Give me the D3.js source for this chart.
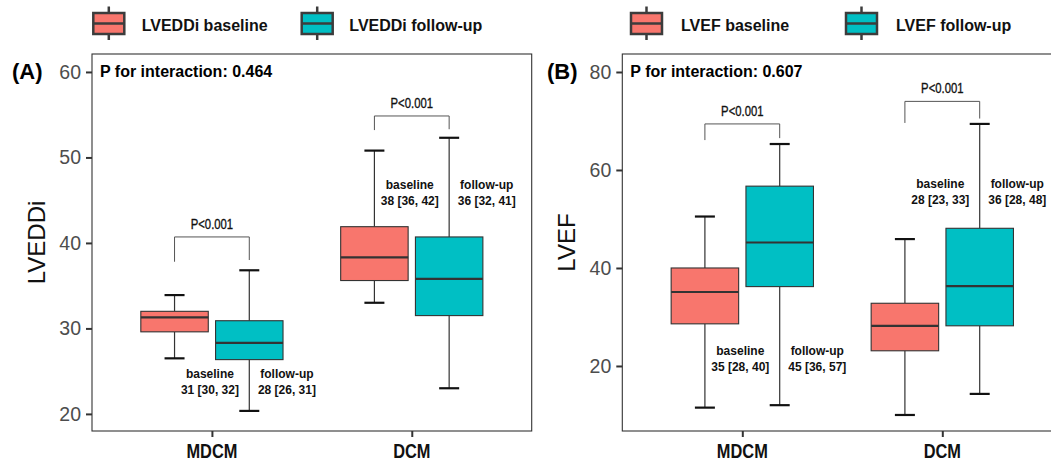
<!DOCTYPE html>
<html lang="en">
<head>
<meta charset="UTF-8" />
<title>LVEDDi / LVEF boxplots</title>
<script src="https://d3js.org/d3.v7.min.js"></script>
<style>
	html, body { margin: 0; background: #fff; }
	svg { font-family: 'Liberation Sans', Arial, sans-serif; display: block; }
</style>
</head>
<body>
<svg id="chart" width="1051" height="464"></svg>
<script>
	// categories and groups
	const categories = ['MDCM', 'DCM'];
	const groups = ['baseline', 'follow-up'];
	const groupColors = ['#F8766D', '#00BFC4'];

	// box stats per category: [lower whisker, Q1, median, Q3, upper whisker]
	const lveddiBaseline = [[26.5, 29.6, 31.3, 32.0, 33.9], [33.0, 35.6, 38.3, 41.9, 50.8]];
	const lveddiFollowup = [[20.35, 26.35, 28.3, 30.9, 36.8], [23.0, 31.5, 35.8, 40.7, 52.3]];
	const lvefBaseline = [[11.5, 28.6, 35.1, 40.0, 50.5], [10.0, 23.1, 28.2, 32.8, 45.9]];
	const lvefFollowup = [[12.0, 36.2, 45.2, 56.7, 65.3], [14.3, 28.2, 36.3, 48.1, 69.4]];

	// median [IQR] labels
	const lveddiBaselineText = ['31 [30, 32]', '38 [36, 42]'];
	const lveddiFollowupText = ['28 [26, 31]', '36 [32, 41]'];
	const lvefBaselineText = ['35 [28, 40]', '28 [23, 33]'];
	const lvefFollowupText = ['45 [36, 57]', '36 [28, 48]'];
	const lveddiLabelY = [24.7, 46.8];
	const lvefLabelY = [23.1, 57.1];

	// significance brackets: [bar, left leg end, right leg end]
	const lveddiBrackets = [[40.7, 37.8, 38.0], [54.85, 53.2, 53.3]];
	const lvefBrackets = [[69.4, 66.1, 66.5], [74.0, 69.6, 70.5]];
	const bracketText = ['P<0.001', 'P<0.001'];

	const lveddiTicks = [20, 30, 40, 50, 60];
	const lvefTicks = [20, 40, 60, 80];

	const panels = [
		{
			tag: '(A)', yTitle: 'LVEDDi', pText: 'P for interaction: 0.464',
			legend: ['LVEDDi baseline', 'LVEDDi follow-up'],
			left: 92, right: 531.7, yDomain: [18, 62.1], ticks: lveddiTicks,
			stats: [lveddiBaseline, lveddiFollowup],
			text: [lveddiBaselineText, lveddiFollowupText],
			labelY: lveddiLabelY, brackets: lveddiBrackets,
			tagX: 12, titleX: 37, legendKeys: [93.3, 301.7], legendText: [141.7, 349.3],
		},
		{
			tag: '(B)', yTitle: 'LVEF', pText: 'P for interaction: 0.607',
			legend: ['LVEF baseline', 'LVEF follow-up'],
			left: 622.3, right: 1062.3, yDomain: [6.73, 83.67], ticks: lvefTicks,
			stats: [lvefBaseline, lvefFollowup],
			text: [lvefBaselineText, lvefFollowupText],
			labelY: lvefLabelY, brackets: lvefBrackets,
			tagX: 547, titleX: 567, legendKeys: [631, 846], legendText: [681, 896],
		},
	];

	const plotTop = 54;
	const plotBottom = 431;
	const svg = d3.select('#chart');

	const drawPanel = (p) => {
		const g = svg.append('g');
		const x = d3.scalePoint().domain(categories).range([p.left, p.right]).padding(0.6);
		const step = x.step();
		const y = d3.scaleLinear().domain(p.yDomain).range([plotBottom, plotTop]);
		const dodge = [-0.187 * step, 0.187 * step];
		const boxW = 0.3375 * step;
		const capW = 20;

		// panel border
		g.append('rect')
			.attr('x', p.left).attr('y', plotTop)
			.attr('width', p.right - p.left).attr('height', plotBottom - plotTop)
			.attr('fill', 'none').attr('stroke', '#333').attr('stroke-width', 1.1);

		// axes
		const yAxis = g.append('g')
			.attr('transform', `translate(${p.left},0)`)
			.call(d3.axisLeft(y).tickValues(p.ticks).tickSize(6).tickPadding(5));
		yAxis.select('.domain').remove();
		yAxis.selectAll('line').attr('stroke', '#333').attr('stroke-width', 2);
		yAxis.selectAll('text')
			.attr('fill', '#4d4d4d').attr('font-size', 19.5)
			.attr('font-family', "'Liberation Sans', Arial, sans-serif");

		const xAxis = g.append('g')
			.attr('transform', `translate(0,${plotBottom})`)
			.call(d3.axisBottom(x).tickSize(6).tickFormat(''));
		xAxis.select('.domain').remove();
		xAxis.selectAll('line').attr('stroke', '#333').attr('stroke-width', 2);

		categories.forEach((c) => {
			g.append('text')
				.attr('transform', `translate(${x(c)},458) scale(0.82,1)`)
				.attr('text-anchor', 'middle')
				.attr('font-size', 20).attr('font-weight', 'bold')
				.attr('fill', '#111')
				.text(c);
		});

		// y title
		g.append('text')
			.attr('transform', `translate(${p.titleX + 8},${(plotTop + plotBottom) / 2}) rotate(-90)`)
			.attr('text-anchor', 'middle')
			.attr('font-size', 24).attr('fill', '#111')
			.text(p.yTitle);

		// tag and p interaction
		g.append('text')
			.attr('x', p.tagX).attr('y', 79)
			.attr('font-size', 22).attr('font-weight', 'bold')
			.text(p.tag);
		g.append('text')
			.attr('x', p.left + 8).attr('y', 77)
			.attr('font-size', 16).attr('font-weight', 'bold')
			.text(p.pText);

		// boxes
		groups.forEach((grp, gi) => {
			categories.forEach((c, ci) => {
				const [lo, q1, med, q3, hi] = p.stats[gi][ci];
				const cx = x(c) + dodge[gi];
				const bg = g.append('g');
				bg.append('line')
					.attr('x1', cx).attr('x2', cx).attr('y1', y(hi)).attr('y2', y(q3))
					.attr('stroke', '#333').attr('stroke-width', 1.2);
				bg.append('line')
					.attr('x1', cx).attr('x2', cx).attr('y1', y(q1)).attr('y2', y(lo))
					.attr('stroke', '#333').attr('stroke-width', 1.2);
				[lo, hi].forEach((v) => {
					bg.append('line')
						.attr('x1', cx - capW / 2).attr('x2', cx + capW / 2)
						.attr('y1', y(v)).attr('y2', y(v))
						.attr('stroke', '#111').attr('stroke-width', 2.2);
				});
				bg.append('rect')
					.attr('x', cx - boxW / 2).attr('y', y(q3))
					.attr('width', boxW).attr('height', y(q1) - y(q3))
					.attr('fill', groupColors[gi])
					.attr('stroke', '#333').attr('stroke-width', 1.1);
				bg.append('line')
					.attr('x1', cx - boxW / 2).attr('x2', cx + boxW / 2)
					.attr('y1', y(med)).attr('y2', y(med))
					.attr('stroke', '#333').attr('stroke-width', 2.2);
			});
		});

		// median [IQR] labels
		const labelDx = [-2, 75];
		groups.forEach((grp, gi) => {
			categories.forEach((c, ci) => {
				const t = g.append('text')
					.attr('text-anchor', 'middle')
					.attr('font-size', 12).attr('font-weight', 'bold')
					.attr('fill', '#111');
				const lx = x(c) + labelDx[gi];
				const ly = y(p.labelY[ci]) + 4;
				t.append('tspan').attr('x', lx).attr('y', ly).text(grp);
				t.append('tspan').attr('x', lx).attr('y', ly + 16).text(p.text[gi][ci]);
			});
		});

		// brackets
		categories.forEach((c, ci) => {
			const [bar, l, r] = p.brackets[ci];
			const x1 = x(c) + dodge[0];
			const x2 = x(c) + dodge[1];
			g.append('path')
				.attr('d', d3.line()([[x1, y(l)], [x1, y(bar)], [x2, y(bar)], [x2, y(r)]]))
				.attr('fill', 'none').attr('stroke', '#555').attr('stroke-width', 1);
			g.append('text')
				.attr('transform', `translate(${x(c)},${y(bar) - 8}) scale(0.78,1)`)
				.attr('text-anchor', 'middle')
				.attr('font-size', 14.5).attr('fill', '#111')
				.attr('stroke', '#111').attr('stroke-width', 0.35)
				.text(bracketText[ci]);
		});

		// legend
		p.legend.forEach((label, li) => {
			const kx = p.legendKeys[li];
			const kw = 31;
			const lg = g.append('g');
			lg.append('line')
				.attr('x1', kx + kw / 2).attr('x2', kx + kw / 2).attr('y1', 6.5).attr('y2', 40)
				.attr('stroke', '#3c3c3c').attr('stroke-width', 2.5);
			lg.append('rect')
				.attr('x', kx).attr('y', 13).attr('width', kw).attr('height', 21)
				.attr('fill', groupColors[li])
				.attr('stroke', '#3c3c3c').attr('stroke-width', 2.5);
			lg.append('line')
				.attr('x1', kx).attr('x2', kx + kw).attr('y1', 23.5).attr('y2', 23.5)
				.attr('stroke', '#3c3c3c').attr('stroke-width', 2.5);
			lg.append('text')
				.attr('x', p.legendText[li]).attr('y', 31)
				.attr('font-size', 16).attr('font-weight', 'bold')
				.attr('fill', '#111')
				.text(label);
		});
	};

	panels.forEach(drawPanel);
</script>
</body>
</html>
